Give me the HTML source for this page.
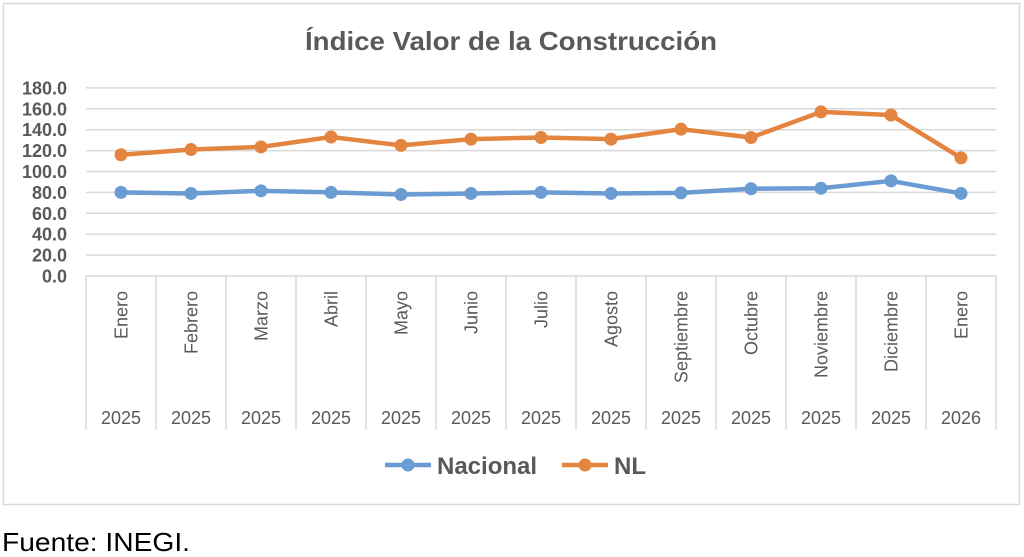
<!DOCTYPE html>
<html><head><meta charset="utf-8"><style>
body{margin:0;background:#fff;width:1024px;height:557px;overflow:hidden}
svg{display:block}
text{font-family:"Liberation Sans",sans-serif}
</style></head><body>
<svg id="s" width="1024" height="557" xmlns="http://www.w3.org/2000/svg">
<rect x="3.5" y="3.5" width="1016" height="501" fill="#fff" stroke="#d9d9d9" stroke-width="1.5"/>
<text x="511" y="50" text-anchor="middle" font-size="26" font-weight="bold" fill="#595959" textLength="412" lengthAdjust="spacingAndGlyphs">Índice Valor de la Construcción</text>
<g id="g"></g>
<text x="2" y="551" font-size="26" fill="#000" textLength="188" lengthAdjust="spacingAndGlyphs">Fuente: INEGI.</text>
</svg>
<script>
var g=document.getElementById('g'),h='';
var x0=86,x1=996,y0=276,k=1.045;
for(var v=0;v<=180;v+=20){var y=y0-v*k;
 if(v>0)h+='<line x1="'+x0+'" x2="'+x1+'" y1="'+y+'" y2="'+y+'" stroke="#d9d9d9" stroke-width="1.5"/>';
 h+='<text x="67" y="'+(y+6.5)+'" text-anchor="end" font-size="18" font-weight="bold" fill="#595959">'+v.toFixed(1)+'</text>';}
h+='<line x1="'+x0+'" x2="'+x1+'" y1="'+y0+'" y2="'+y0+'" stroke="#d9d9d9" stroke-width="1.5"/>';
var m=['Enero','Febrero','Marzo','Abril','Mayo','Junio','Julio','Agosto','Septiembre','Octubre','Noviembre','Diciembre','Enero'];
for(var i=0;i<=13;i++){var x=x0+70*i;h+='<line x1="'+x+'" x2="'+x+'" y1="'+y0+'" y2="430" stroke="#d9d9d9" stroke-width="1.5"/>';}
for(var i=0;i<13;i++){var cx=x0+35+70*i;
 h+='<text transform="translate('+(cx+6.5)+',291) rotate(-90)" text-anchor="end" font-size="18" fill="#595959">'+m[i]+'</text>';
 h+='<text x="'+cx+'" y="424" text-anchor="middle" font-size="18" fill="#595959">'+(i==12?'2026':'2025')+'</text>';}
var A=[80,79,81.5,80,78,79,80,79,79.5,83.5,84,91,79],B=[116,121,123.5,133,125,131,132.5,131,140.5,132.5,157,154,113];
function ser(d,c){var p='',q='';for(var i=0;i<13;i++){var x=x0+35+70*i,y=y0-d[i]*k;p+=(i?'L':'M')+x+' '+y;q+='<circle cx="'+x+'" cy="'+y+'" r="6.5" fill="'+c+'"/>';}
 return '<path d="'+p+'" fill="none" stroke="'+c+'" stroke-width="4.5" stroke-linejoin="round"/>'+q;}
h+=ser(A,'#6a9bd3')+ser(B,'#e3843f');
h+='<line x1="385" x2="431" y1="465" y2="465" stroke="#6a9bd3" stroke-width="4.5"/><circle cx="408" cy="465" r="6.5" fill="#6a9bd3"/>';
h+='<text x="437" y="474" font-size="24" font-weight="bold" fill="#595959">Nacional</text>';
h+='<line x1="562" x2="608" y1="465" y2="465" stroke="#e3843f" stroke-width="4.5"/><circle cx="585" cy="465" r="6.5" fill="#e3843f"/>';
h+='<text x="614" y="474" font-size="24" font-weight="bold" fill="#595959">NL</text>';
g.innerHTML=h;
</script>
</body></html>
